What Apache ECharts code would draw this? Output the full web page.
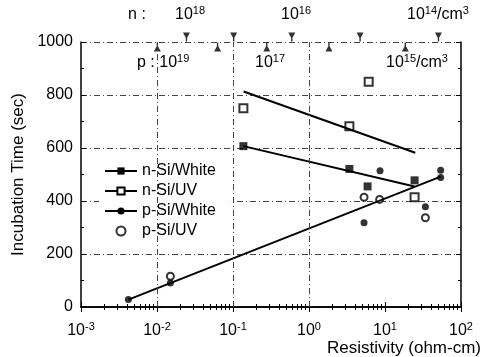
<!DOCTYPE html>
<html>
<head>
  <meta charset="UTF-8" />
  <title></title>
  <style type="text/css">
    * { margin: 0; padding: 0; }
    #main { width: 484px; height: 357px; background: #fff; }
  </style>
</head>
<body>
  <div id="main"></div>
</body>
<script src="https://cdn.jsdelivr.net/npm/echarts@6/dist/echarts.min.js"></script>
<script type="text/javascript">
  // resistivity (ohm-cm) / incubation time (sec)
  let nWhitePoints = [[0.137, 607], [3.4, 521], [5.9, 455], [24.5, 478]]
  let nWhiteFit = [[0.137, 607], [24.5, 455]]
  let nUVPoints = [[0.137, 750], [3.4, 682], [6.1, 850], [24.5, 414]]
  let nUVFit = [[0.138, 813], [25, 582]]
  let pWhitePoints = [[0.0042, 28], [0.015, 91], [5.3, 318], [8.6, 514], [34, 378], [54, 489], [54, 516]]
  let pWhiteFit = [[0.0042, 28], [54, 492]]
  let pUVPoints = [[0.015, 116], [5.3, 414], [8.5, 406], [34, 337]]

  // doping markers on the top axis (resistivity where they sit)
  let nArrows = [0.0244, 0.102, 0.594, 4.7, 50.5]
  let pArrows = [0.0101, 0.0627, 0.278, 1.83, 18.5]
  let xGridLines = [0.01, 0.1, 1]
  let yTicks = [0, 200, 400, 600, 800, 1000]

  let font = "'Liberation Sans', Arial, sans-serif"
  let rich = {
    b: { fontSize: 16, fontFamily: font, color: '#000', lineHeight: 20 },
    s: { fontSize: 11, fontFamily: font, color: '#000', verticalAlign: 'top', lineHeight: 12 }
  }
  let grich = {
    b: { fontSize: 16, fontFamily: font, fill: '#000', lineHeight: 20 },
    s: { fontSize: 11, fontFamily: font, fill: '#000', verticalAlign: 'top', lineHeight: 12 }
  }
  let dash = [6, 3, 1, 3]

  let myChart = echarts.init(document.getElementById('main'))

  function topText(x, y, txt, align) {
    return {
      type: 'text', x: x, y: y,
      style: { text: txt, rich: grich, font: '16px ' + font, fill: '#000', align: align || 'center', verticalAlign: 'middle' }
    }
  }

  let option = {
    animation: false,
    grid: { left: 81, right: 22, top: 42, bottom: 50 },
    legend: {
      orient: 'vertical',
      left: 99, top: 157,
      padding: [6, 14, 6, 5],
      backgroundColor: '#fff',
      itemWidth: 32, itemHeight: 9, itemGap: 4,
      textStyle: { fontSize: 16, fontFamily: font, color: '#000' },
      data: ['n-Si/White', 'n-Si/UV', 'p-Si/White', 'p-Si/UV']
    },
    xAxis: [{
      type: 'log', logBase: 10, min: 0.001, max: 100,
      position: 'bottom',
      name: 'Resistivity (ohm-cm)',
      nameLocation: 'end', nameGap: 20,
      nameTextStyle: { fontSize: 17, fontFamily: font, color: '#000', align: 'right', verticalAlign: 'top', padding: [33, 0, 0, 0] },
      axisLine: { lineStyle: { color: '#000', width: 1.5 } },
      axisTick: { inside: true, length: 5, lineStyle: { color: '#000' } },
      minorTick: { show: true, splitNumber: 9, length: 3, lineStyle: { color: '#000' } },
      splitLine: { show: false },
      axisLabel: {
        margin: 14,
        formatter: v => '{b|10}{s|' + Math.round(Math.log10(v)) + '}',
        rich: rich
      }
    }, {
      type: 'log', logBase: 10, min: 0.001, max: 100,
      position: 'top',
      axisLine: { lineStyle: { color: '#000', width: 1.5 } },
      axisTick: { inside: true, length: 5, lineStyle: { color: '#000' } },
      minorTick: { show: true, splitNumber: 9, length: 3, lineStyle: { color: '#000' } },
      splitLine: { show: false },
      axisLabel: { show: false }
    }],
    yAxis: [{
      type: 'value', min: 0, max: 1000, interval: 200,
      name: 'Incubation Time (sec)',
      nameLocation: 'middle', nameGap: 45,
      nameTextStyle: { fontSize: 17, fontFamily: font, color: '#000' },
      axisLine: { show: true, lineStyle: { color: '#000', width: 1.5 } },
      axisTick: { show: true, inside: true, length: 5, lineStyle: { color: '#000' } },
      minorTick: { show: true, splitNumber: 2, length: 3, lineStyle: { color: '#000' } },
      splitLine: { show: true, lineStyle: { color: '#444', type: dash, width: 1 } },
      axisLabel: { margin: 8, fontSize: 16, fontFamily: font, color: '#000',
        formatter: v => yTicks.indexOf(v) >= 0 ? String(v) : '' }
    }, {
      type: 'value', min: 0, max: 1000, interval: 200,
      position: 'right',
      axisLine: { show: true, lineStyle: { color: '#000', width: 1.5 } },
      axisTick: { show: true, inside: true, length: 5, lineStyle: { color: '#000' } },
      minorTick: { show: true, splitNumber: 2, length: 3, lineStyle: { color: '#000' } },
      splitLine: { show: false },
      axisLabel: { show: false }
    }],
    graphic: [
      topText(137, 15, 'n :'),
      topText(190, 15, '{b|10}{s|18}'),
      topText(296, 15, '{b|10}{s|16}'),
      topText(438, 15, '{b|10}{s|14}{b|/cm}{s|3}'),
      topText(137, 63, '{b|p : 10}{s|19}', 'left'),
      topText(270, 63, '{b|10}{s|17}'),
      topText(417, 63, '{b|10}{s|15}{b|/cm}{s|3}')
    ],
    series: [
      {
        name: 'n-Si/White', type: 'line', data: nWhiteFit,
        symbol: 'rect', showSymbol: false, symbolSize: 8,
        lineStyle: { color: '#000', width: 2 }, itemStyle: { color: '#000' },
        markLine: {
          silent: true, symbol: 'none', label: { show: false },
          lineStyle: { color: '#444', type: dash, width: 1 },
          data: xGridLines.map(v => ({ xAxis: v }))
        }
      },
      {
        name: 'n-Si/UV', type: 'line', data: nUVFit,
        symbol: 'emptyRect', showSymbol: false, symbolSize: 8,
        lineStyle: { color: '#000', width: 2 }, itemStyle: { color: '#000' }
      },
      {
        name: 'p-Si/White', type: 'line', data: pWhiteFit,
        symbol: 'circle', showSymbol: false, symbolSize: 7,
        lineStyle: { color: '#000', width: 2 }, itemStyle: { color: '#000' }
      },
      {
        name: 'p-Si/UV', type: 'scatter', data: pUVPoints,
        symbol: 'emptyCircle', symbolSize: 7,
        itemStyle: { color: '#000', borderColor: '#000', borderWidth: 1.2 }
      },
      {
        name: 'n-Si/White', type: 'scatter', data: nWhitePoints,
        symbol: 'rect', symbolSize: 8, itemStyle: { color: '#000' }
      },
      {
        name: 'n-Si/UV', type: 'scatter', data: nUVPoints,
        symbol: 'emptyRect', symbolSize: 8,
        itemStyle: { color: '#000', borderColor: '#000', borderWidth: 1.3 }
      },
      {
        name: 'p-Si/White', type: 'scatter', data: pWhitePoints,
        symbol: 'circle', symbolSize: 7, itemStyle: { color: '#000' }
      },
      // arrows on the top axis
      {
        type: 'scatter', clip: false, silent: true,
        data: nArrows.map(v => [v, 1000]),
        symbol: 'path://M0,0 L10,0 L6,8 L6,14 L4,14 L4,8 Z', symbolSize: [7, 9], symbolOffset: [0, -5],
        itemStyle: { color: '#000' }
      },
      {
        type: 'scatter', clip: false, silent: true,
        data: pArrows.map(v => [v, 1000]),
        symbol: 'path://M4,0 L6,0 L6,6 L10,14 L0,14 L4,6 Z', symbolSize: [7, 9], symbolOffset: [0, 5],
        itemStyle: { color: '#000' }
      }
    ]
  }
  myChart.setOption(option)
</script>
</html>
